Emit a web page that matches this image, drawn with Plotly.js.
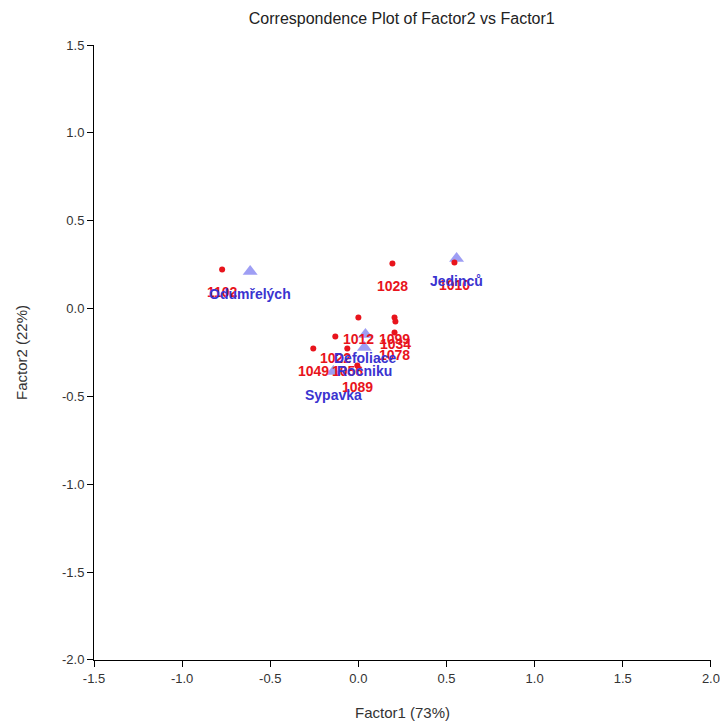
<!DOCTYPE html>
<html>
<head>
<meta charset="utf-8">
<script src="https://cdn.plot.ly/plotly-3.0.1.min.js"></script>
<style>html,body{margin:0;padding:0;background:#fff;}#chart{width:720px;height:722px;}</style>
</head>
<body>
<div id="chart"></div>
<script>
// Row points (red dots)
const rowLabels = ["1102", "1028", "1010", "1012", "1099", "1034", "1022", "1049", "1056", "1078", "1089"];
const rowF1 = [-0.773, 0.193, 0.545, 0.000, 0.205, 0.210, -0.131, -0.256, -0.063, 0.205, -0.006];
const rowF2 = [0.222, 0.256, 0.262, -0.051, -0.051, -0.074, -0.159, -0.228, -0.228, -0.137, -0.324];

// Column points (blue triangles)
const colLabels = ["Odumřelých", "Jedinců", "Defoliace", "Rocniku", "Sypavka"];
const colF1 = [-0.614, 0.557, 0.040, 0.034, -0.142];
const colF2 = [0.211, 0.285, -0.148, -0.222, -0.359];

const xTicks = [-1.5, -1.0, -0.5, 0.0, 0.5, 1.0, 1.5, 2.0];
const yTicks = [1.5, 1.0, 0.5, 0.0, -0.5, -1.0, -1.5, -2.0];

const redCol = "rgb(232,20,28)";
const blueCol = "rgb(58,51,208)";

const traces = [
  {
    x: colF1, y: colF2, type: "scatter", mode: "markers",
    marker: {symbol: "triangle-up", size: 13, color: "rgba(125,125,240,0.75)"},
    hoverinfo: "text", text: colLabels
  },
  {
    x: rowF1, y: rowF2, type: "scatter", mode: "markers",
    marker: {symbol: "circle", size: 6, color: redCol},
    hoverinfo: "text", text: rowLabels
  }
];

const annotations = [];
rowLabels.forEach((t, i) => annotations.push({
  x: rowF1[i], y: rowF2[i], xref: "x", yref: "y", text: "<b>" + t + "</b>",
  showarrow: false, yshift: -22, font: {family: "Arial, Liberation Sans, sans-serif", size: 14, color: redCol}
}));
colLabels.forEach((t, i) => annotations.push({
  x: colF1[i], y: colF2[i], xref: "x", yref: "y", text: "<b>" + t + "</b>",
  showarrow: false, yshift: -23, font: {family: "Arial, Liberation Sans, sans-serif", size: 14, color: blueCol}
}));

const layout = {
  width: 720, height: 722,
  margin: {l: 94, r: 9, t: 45, b: 62},
  paper_bgcolor: "#fff", plot_bgcolor: "#fff",
  showlegend: false,
  font: {family: "Arial, Liberation Sans, sans-serif", color: "#333", size: 13},
  title: {text: "Correspondence Plot of Factor2 vs Factor1", x: 0.558, xanchor: "center", y: 0.975, yanchor: "middle",
          font: {size: 16, color: "#222"}},
  xaxis: {
    range: [-1.5, 2.0005], tickvals: xTicks, ticktext: xTicks.map(v => v.toFixed(1)),
    showgrid: false, zeroline: false, showline: true, linecolor: "#000", linewidth: 1,
    ticks: "outside", ticklen: 6, tickcolor: "#000",
    tickfont: {size: 13, color: "#333"},
    title: {text: "Factor1 (73%)", font: {size: 15, color: "#333"}, standoff: 22}
  },
  yaxis: {
    range: [-2.0005, 1.5], tickvals: yTicks, ticktext: yTicks.map(v => v.toFixed(1)),
    showgrid: false, zeroline: false, showline: true, linecolor: "#000", linewidth: 1,
    ticks: "outside", ticklen: 6, tickcolor: "#000",
    tickfont: {size: 13, color: "#333"},
    title: {text: "Factor2 (22%)", font: {size: 15, color: "#333"}, standoff: 30}
  },
  annotations: annotations
};

Plotly.newPlot("chart", traces, layout, {displayModeBar: false, staticPlot: true});
</script>
</body>
</html>
